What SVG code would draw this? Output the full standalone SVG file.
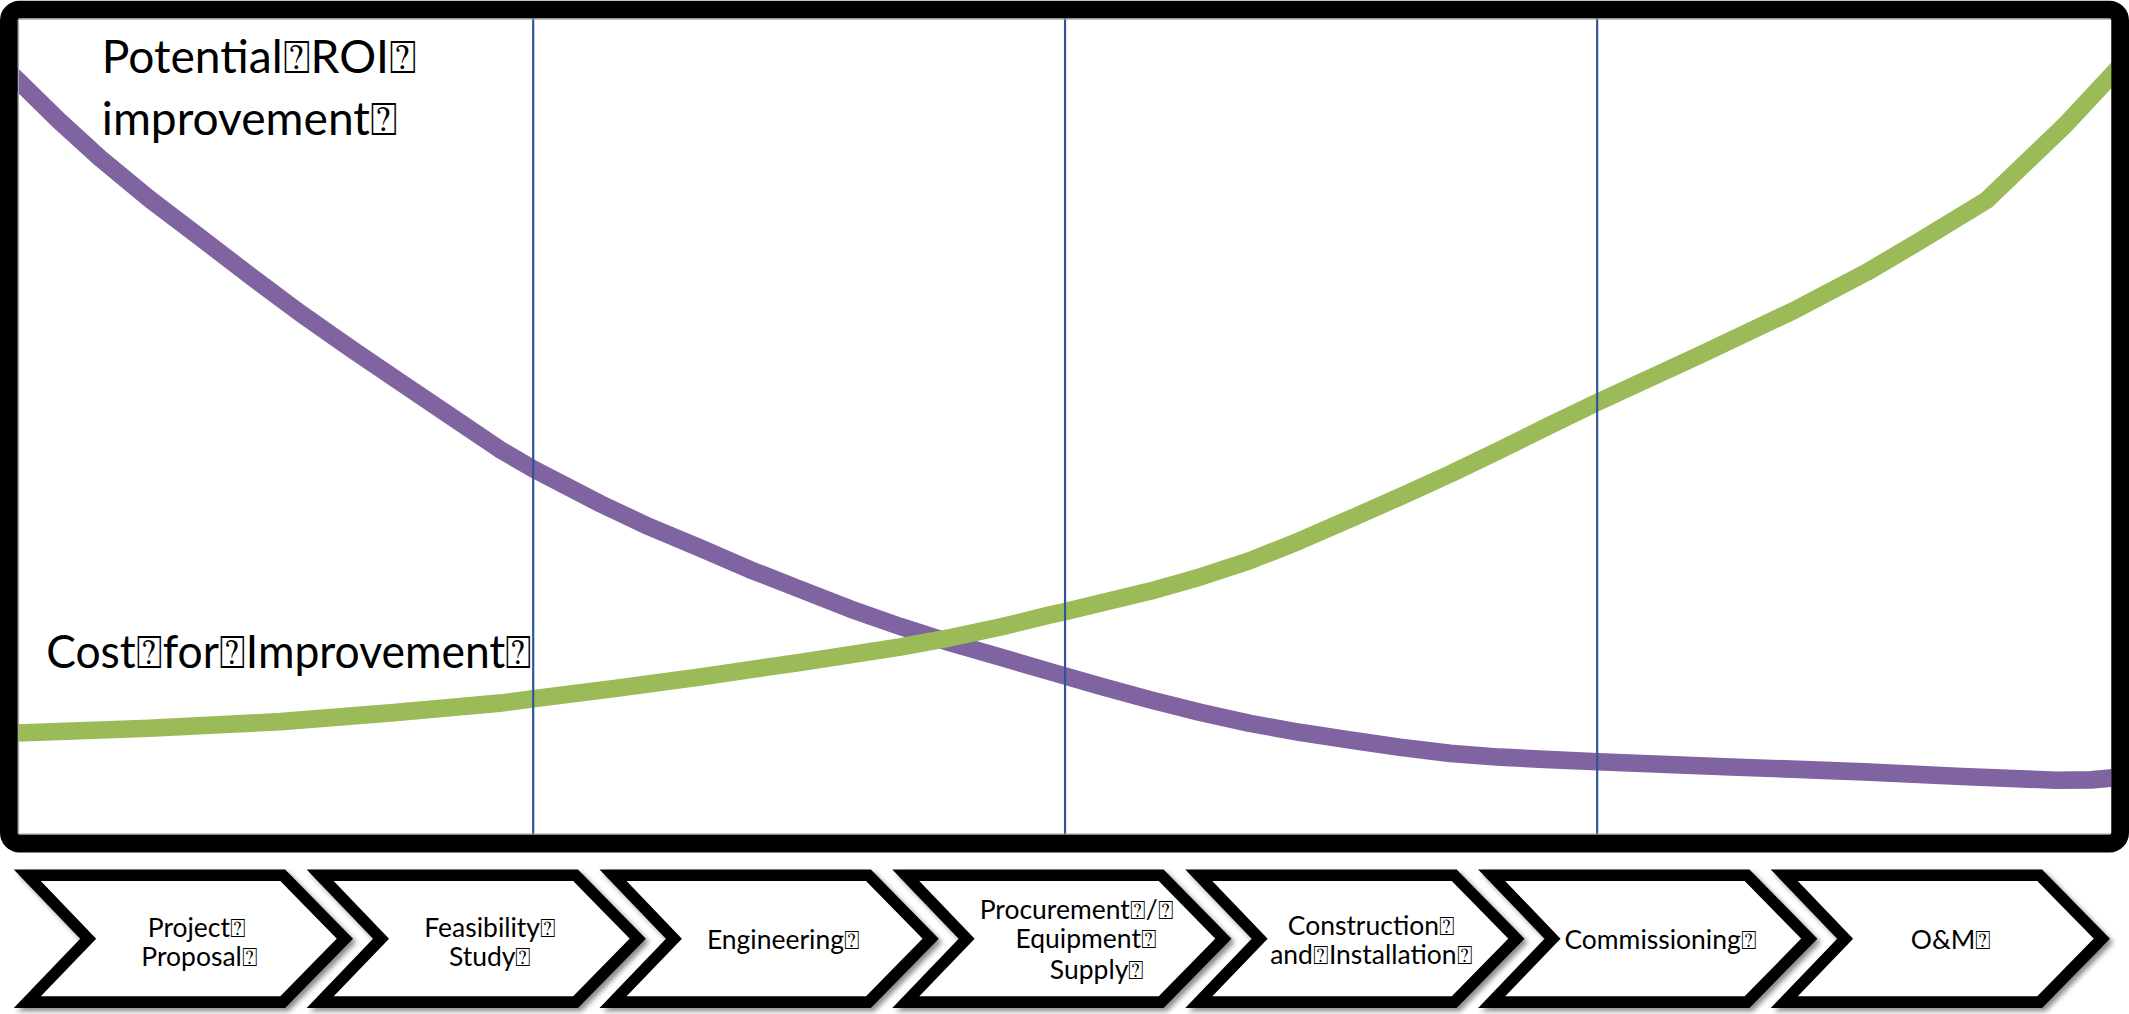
<svg xmlns="http://www.w3.org/2000/svg" xmlns:xlink="http://www.w3.org/1999/xlink" width="2129" height="1014" viewBox="0 0 2129 1014">
<defs>
<style>
.lbl{font-family:Lato,"DejaVu Sans",sans-serif;font-size:34px;fill:#000}
.st{font-family:Lato,"DejaVu Sans",sans-serif;font-size:19.5px;fill:#000;text-anchor:middle}
.chev{fill:#fff;stroke:#000;stroke-width:8.5;stroke-linejoin:miter;stroke-miterlimit:10;filter:url(#sh)}
.div{stroke:#2F5496;stroke-width:1.6;fill:none}
.roi{fill:none;stroke:#8064A2;stroke-width:13;stroke-linejoin:round}
.cost{fill:none;stroke:#9BBB59;stroke-width:13;stroke-linejoin:round}
</style>
<filter id="sh" x="-10%" y="-10%" width="130%" height="130%">
<feDropShadow dx="2.5" dy="2.5" stdDeviation="1.8" flood-color="#000" flood-opacity="0.45"/>
</filter>
<path id="chev" d="M10.1,644.75 L198.2,644.75 L244.05,691.5 L198.2,738.25 L10.1,738.25 L54.95,691.5 Z"/>
</defs>
<rect width="2129" height="1014" fill="#fff"/>
<g transform="scale(1.35778 1.35743)">
<g id="plot">
<rect x="13" y="13.5" width="1543" height="601.5" fill="#fff"/>
<path id="curve-roi" class="roi" d="M5,51.4 L13,59 L43,88.5 L73.6,116.4 L110,146.5 L147,174.6 L184,203 L221,230.6 L258,256.5 L294.6,281.4 L331,306 L368,331 L392.8,345.5 L442,371 L478,388 L515.6,403.7 L552,419.5 L589,434 L626,448.5 L663,461.5 L700,473.5 L736.5,484 L773.3,494.8 L810,505.3 L847,515.5 L884,524.8 L920.6,532.9 L957,539.5 L994.3,545.2 L1031,550.5 L1068,555 L1105,557.8 L1141.6,559.6 L1177,561.2 L1275,565 L1373,568.6 L1445,572 L1514.7,574.8 L1540,574.5 L1562,572.5"/>
<path id="curve-cost" class="cost" d="M5,540.4 L12.9,540 L110,536.5 L206.7,531.6 L290,525 L368,518 L392.6,514.8 L454,507 L515.6,498.7 L589,488 L663,476.6 L700,469.8 L736.5,462 L773.3,453 L784.4,450.5 L847,435.5 L884,425 L920.6,413 L957,398.5 L994.3,382.3 L1031,366 L1068,349.2 L1104.7,331.5 L1140,314 L1176.4,296.4 L1252,261.5 L1320.8,228.9 L1374.8,200.6 L1414,177.5 L1463.4,147.3 L1522,91 L1562,48"/>
<g id="phase-dividers">
<line class="div" x1="392.7" y1="13" x2="392.7" y2="615"/>
<line class="div" x1="784.4" y1="13" x2="784.4" y2="615"/>
<line class="div" x1="1176.3" y1="13" x2="1176.3" y2="615"/>
</g>
<rect x="13.5" y="14" width="1542" height="600.5" fill="none" stroke="#A6A6A6" stroke-width="1"/>
<rect id="frame" x="6.5" y="7" width="1555" height="614.5" rx="8" fill="none" stroke="#000" stroke-width="13"/>
</g>
<g id="label-roi">
<text class="lbl" x="75" y="54">Potential⍰ROI⍰</text>
<text class="lbl" x="75" y="99.5">improvement⍰</text>
</g>
<g id="label-cost">
<text class="lbl" x="34" y="492" textLength="358" lengthAdjust="spacingAndGlyphs">Cost⍰for⍰Improvement⍰</text>
</g>
<g id="step-1"><use xlink:href="#chev" href="#chev" x="10" class="chev"/><text class="st" x="145" y="690">Project⍰</text><text class="st" x="147" y="712">Proposal⍰</text></g>
<g id="step-2"><use xlink:href="#chev" href="#chev" x="225.7" class="chev"/><text class="st" x="361" y="690">Feasibility⍰</text><text class="st" x="361" y="712">Study⍰</text></g>
<g id="step-3"><use xlink:href="#chev" href="#chev" x="441.4" class="chev"/><text class="st" x="577" y="699">Engineering⍰</text></g>
<g id="step-4"><use xlink:href="#chev" href="#chev" x="657" class="chev"/><text class="st" x="793" y="677">Procurement⍰/⍰</text><text class="st" x="800" y="698.5">Equipment⍰</text><text class="st" x="808" y="721">Supply⍰</text></g>
<g id="step-5"><use xlink:href="#chev" href="#chev" x="872.8" class="chev"/><text class="st" x="1010" y="689">Construction⍰</text><text class="st" x="1010" y="710.5">and⍰Installation⍰</text></g>
<g id="step-6"><use xlink:href="#chev" href="#chev" x="1088.5" class="chev"/><text class="st" x="1223" y="699">Commissioning⍰</text></g>
<g id="step-7"><use xlink:href="#chev" href="#chev" x="1304" class="chev"/><text class="st" x="1437" y="699">O&amp;M⍰</text></g>
</g>
</svg>
